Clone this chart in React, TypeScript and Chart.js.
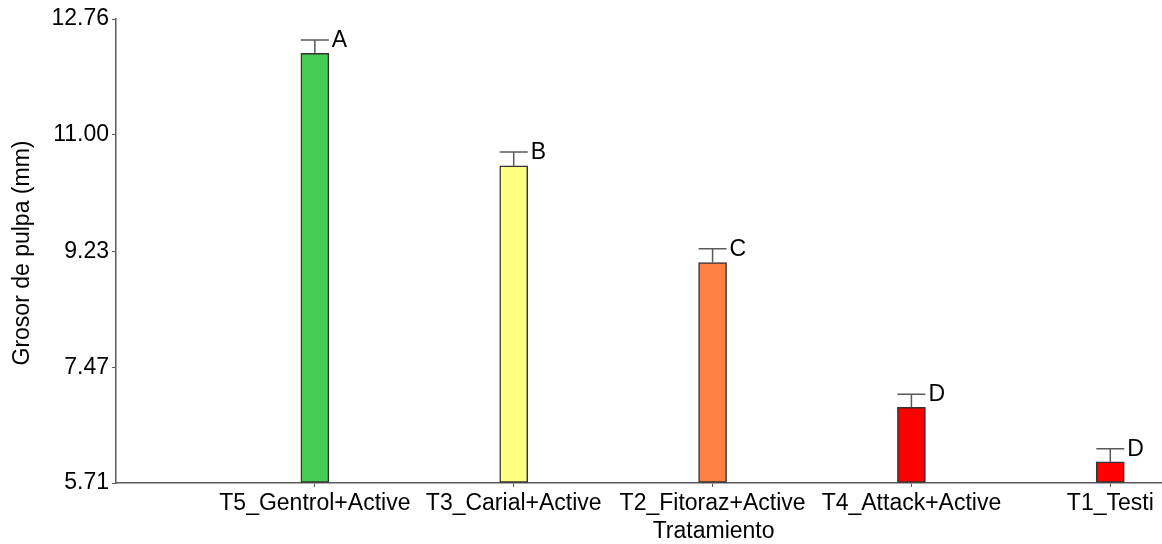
import React, { useEffect, useRef } from "react";
import { Chart, registerables } from "chart.js";

Chart.register(...registerables);

const categories = [
  "T5_Gentrol+Active",
  "T3_Carial+Active",
  "T2_Fitoraz+Active",
  "T4_Attack+Active",
  "T1_Testi",
];
const means = [12.24, 10.53, 9.06, 6.86, 6.03];
const errors = [0.2, 0.21, 0.21, 0.2, 0.2];
const letters = ["A", "B", "C", "D", "D"];
const barColors = ["#45CC55", "#FFFF80", "#FF8040", "#FF0000", "#FF0000"];
const yTicks = [5.71, 7.47, 9.23, 11.0, 12.76];

const FONT = "'Liberation Sans', Arial, sans-serif";
const AXIS = "#5a5a5a";

export default function App() {
  const ref = useRef<HTMLCanvasElement | null>(null);

  useEffect(() => {
    if (!ref.current) return;
    const yMin = yTicks[0];
    const yMax = yTicks[yTicks.length - 1];

    const overlay = {
      id: "overlay",
      afterDatasetsDraw(chart: any) {
        const { ctx, scales } = chart;
        const x = scales.x;
        const y = scales.y;
        ctx.save();
        means.forEach((m, i) => {
          const px = x.getPixelForValue(i + 1);
          const top = y.getPixelForValue(m);
          const cap = y.getPixelForValue(m + errors[i]);
          ctx.strokeStyle = AXIS;
          ctx.lineWidth = 1.5;
          ctx.beginPath();
          ctx.moveTo(px, top);
          ctx.lineTo(px, cap);
          ctx.moveTo(px - 14, cap);
          ctx.lineTo(px + 14, cap);
          ctx.stroke();
          ctx.fillStyle = "#000";
          ctx.font = `23px ${FONT}`;
          ctx.textAlign = "left";
          ctx.textBaseline = "alphabetic";
          ctx.fillText(letters[i], px + 17, cap + 7);
        });
        // x title
        ctx.fillStyle = "#000";
        ctx.font = `23px ${FONT}`;
        ctx.textAlign = "center";
        ctx.textBaseline = "alphabetic";
        ctx.fillText("Tratamiento", x.getPixelForValue(3) + 1, 538);
        // y title
        ctx.translate(29, (chart.chartArea.top + chart.chartArea.bottom) / 2 + 2);
        ctx.rotate(-Math.PI / 2);
        ctx.fillText("Grosor de pulpa (mm)", 0, 0);
        ctx.restore();
      },
    };

    const chart = new Chart(ref.current, {
      type: "bar",
      data: {
        datasets: [
          {
            data: categories.map((_, i) => ({ x: i + 1, y: means[i] })),
            backgroundColor: barColors,
            borderColor: "#333333",
            borderWidth: 1.5,
            borderSkipped: false,
            barThickness: 28,
            base: yMin,
          } as any,
        ],
      },
      options: {
        animation: false,
        responsive: false,
        layout: { padding: { top: 19, left: 0, right: 0, bottom: 0 } },
        plugins: {
          legend: { display: false },
          tooltip: { enabled: false },
        },
        scales: {
          x: {
            type: "linear",
            offset: false,
            min: 0,
            max: 5.26,
            afterBuildTicks: (s: any) => {
              s.ticks = categories.map((_, i) => ({ value: i + 1 }));
            },
            afterFit: (s: any) => {
              s.height = 61;
            },
            ticks: {
              autoSkip: false,
              maxRotation: 0,
              padding: 3,
              color: "#000",
              font: { family: FONT, size: 23 },
              callback: (v: any) => categories[Number(v) - 1] ?? "",
            },
            grid: {
              offset: false,
              drawOnChartArea: false,
              drawTicks: true,
              tickLength: 4,
              color: AXIS,
            },
            border: { display: true, color: AXIS, width: 1.5 },
          },
          y: {
            type: "linear",
            min: yMin,
            max: yMax,
            afterBuildTicks: (s: any) => {
              s.ticks = yTicks.map((v) => ({ value: v }));
            },
            afterFit: (s: any) => {
              s.width = 116;
            },
            ticks: {
              padding: 3,
              color: "#000",
              font: { family: FONT, size: 23 },
              callback: (v: any) => Number(v).toFixed(2),
            },
            grid: {
              drawOnChartArea: false,
              drawTicks: true,
              tickLength: 4,
              color: AXIS,
            },
            border: { display: true, color: AXIS, width: 1.5 },
          },
        },
      },
      plugins: [overlay],
    });
    return () => chart.destroy();
  }, []);

  return (
    <div style={{ position: "absolute", left: 0, top: 0, width: 1162, height: 544, background: "#fff" }}>
      <canvas ref={ref} width={1162} height={544} style={{ display: "block" }} />
    </div>
  );
}
